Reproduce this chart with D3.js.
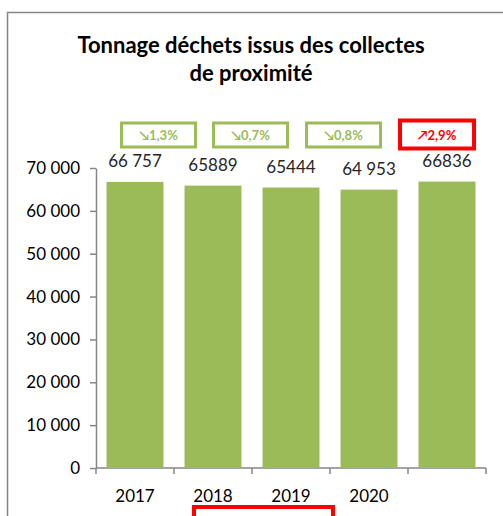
<!DOCTYPE html>
<html lang="fr">
<head>
<meta charset="utf-8">
<title>Tonnage déchets</title>
<script src="https://cdn.jsdelivr.net/npm/d3@7"></script>
<style>
  body { margin: 0; background: #fff; }
  svg text { font-family: Lato, "Open Sans", sans-serif; }
</style>
</head>
<body>
<div id="chart"></div>
<script>
// data
var years = ["2017", "2018", "2019", "2020", ""];
var tonnage = [66757, 65889, 65444, 64953, 66836];
var tonnageLabels = ["66 757", "65889", "65444", "64 953", "66836"];
var changes = ["\u21981,3%", "\u21980,7%", "\u21980,8%", "\u21972,9%"];
var changeUp = [false, false, false, true];
var yTicks = [0, 10000, 20000, 30000, 40000, 50000, 60000, 70000];

var W = 503, H = 516;
var mLeft = 96, mRight = 486, mTop = 168, mBottom = 468;

var svg = d3.select("#chart").append("svg").attr("width", W).attr("height", H);

// outer frame (only top and left visible)
svg.append("path")
  .attr("d", "M7.5," + H + " V12.5 H" + W)
  .attr("fill", "none").attr("stroke", "#868686").attr("stroke-width", 1.5);

// title
var title = svg.append("text").attr("text-anchor", "middle")
  .attr("font-weight", "bold").attr("font-size", 22).attr("fill", "#000");
title.append("tspan").attr("x", 251).attr("y", 53).text("Tonnage déchets issus des collectes");
title.append("tspan").attr("x", 251).attr("y", 81).text("de proximité");

var x = d3.scaleBand().domain(d3.range(years.length)).range([mLeft, mRight]).paddingInner(0.27).paddingOuter(0.135);
var y = d3.scaleLinear().domain([0, 70000]).range([mBottom, mTop]);

// y axis
var yAxis = svg.append("g").attr("transform", "translate(" + mLeft + ",0)")
  .call(d3.axisLeft(y).tickValues(yTicks).tickSize(6).tickSizeOuter(0)
    .tickFormat(function(d){ return d3.format(",")(d).replace(/,/g, " "); }));
yAxis.select(".domain").attr("stroke", "#868686").attr("stroke-width", 1.5);
yAxis.selectAll(".tick line").attr("stroke", "#868686").attr("stroke-width", 1.5);
yAxis.selectAll(".tick text").attr("font-size", 17).attr("fill", "#000").attr("x", -16)
  .attr("font-family", "Lato, sans-serif");

// x axis: ticks at category boundaries
var xAxis = svg.append("g").attr("transform", "translate(0," + mBottom + ")");
xAxis.append("line").attr("x1", mLeft).attr("x2", mRight).attr("stroke", "#868686").attr("stroke-width", 1.5);
xAxis.selectAll("line.tk").data(d3.range(years.length + 1)).enter().append("line")
  .attr("class", "tk")
  .attr("x1", function(i){ return mLeft + i * (mRight - mLeft) / years.length; })
  .attr("x2", function(i){ return mLeft + i * (mRight - mLeft) / years.length; })
  .attr("y1", 0).attr("y2", 6).attr("stroke", "#868686").attr("stroke-width", 1.5);
xAxis.selectAll("text").data(years).enter().append("text")
  .attr("x", function(d, i){ return x(i) + x.bandwidth() / 2; })
  .attr("y", 34).attr("text-anchor", "middle").attr("font-size", 17).attr("fill", "#000")
  .text(function(d){ return d; });

// bars
svg.selectAll("rect.bar").data(tonnage).enter().append("rect")
  .attr("class", "bar")
  .attr("x", function(d, i){ return x(i); })
  .attr("width", x.bandwidth())
  .attr("y", function(d){ return y(d); })
  .attr("height", function(d){ return mBottom - y(d); })
  .attr("fill", "#9bbb59");

// value labels
svg.selectAll("text.val").data(tonnage).enter().append("text")
  .attr("class", "val")
  .attr("x", function(d, i){ return x(i) + x.bandwidth() / 2; })
  .attr("y", function(d){ return y(d) - 15; })
  .attr("text-anchor", "middle").attr("font-size", 17).attr("fill", "#262626")
  .text(function(d, i){ return tonnageLabels[i]; });

// change badges
var badgeShift = [-26, -12, 3, 18.5];
var badges = svg.selectAll("g.badge").data(changes).enter().append("g")
  .attr("class", "badge")
  .attr("transform", function(d, i){
    return "translate(" + (x(i + 1) + badgeShift[i]) + ",135)";
  });
badges.append("rect")
  .attr("x", -37).attr("y", function(d, i){ return changeUp[i] ? -14.5 : -12; })
  .attr("width", 74).attr("height", function(d, i){ return changeUp[i] ? 28 : 24; })
  .attr("fill", "none")
  .attr("stroke", function(d, i){ return changeUp[i] ? "#ff0000" : "#9bbb59"; })
  .attr("stroke-width", function(d, i){ return changeUp[i] ? 4 : 3; });
badges.append("text")
  .attr("y", 5).attr("text-anchor", "middle").attr("font-size", 13).attr("font-weight", "bold")
  .attr("fill", function(d, i){ return changeUp[i] ? "#ff0000" : "#9bbb59"; })
  .text(function(d){ return d; });

// red highlight box at the bottom
svg.append("rect").attr("x", 194).attr("y", 507).attr("width", 139).attr("height", 30)
  .attr("fill", "none").attr("stroke", "#ff0000").attr("stroke-width", 4);
</script>
</body>
</html>
